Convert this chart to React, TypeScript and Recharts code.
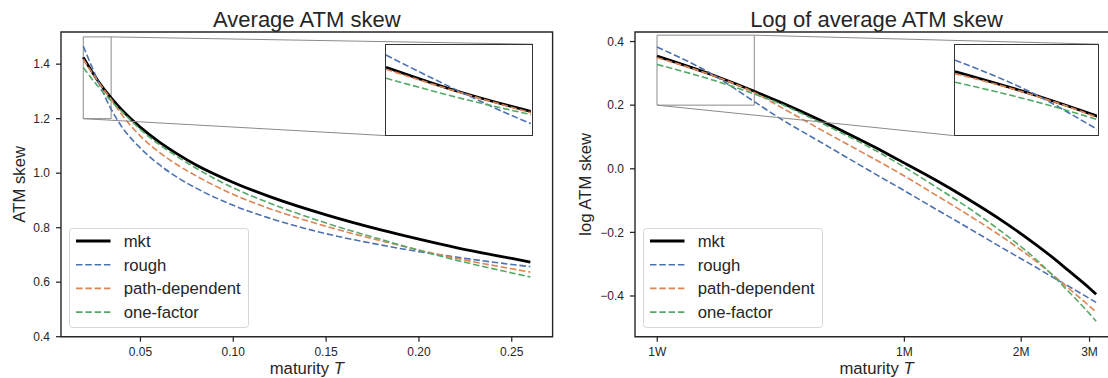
import React from 'react';
import { LineChart, Line, XAxis, YAxis, ReferenceArea, ReferenceLine } from 'recharts';

// maturities in years (1W ... ~3M)
const MATURITY = [0.0192, 0.0267, 0.0342, 0.04, 0.05, 0.06, 0.07, 0.08, 0.1, 0.12, 0.15, 0.18, 0.2, 0.22, 0.25, 0.26];
const MKT = [1.425, 1.343, 1.276, 1.232, 1.168, 1.115, 1.07, 1.03, 0.966, 0.913, 0.847, 0.791, 0.758, 0.727, 0.687, 0.674];
const ROUGH = [1.466, 1.345, 1.235, 1.17, 1.092, 1.032, 0.984, 0.945, 0.882, 0.834, 0.778, 0.736, 0.712, 0.692, 0.665, 0.657];
const PATH_DEP = [1.418, 1.341, 1.271, 1.214, 1.136, 1.077, 1.03, 0.99, 0.922, 0.869, 0.805, 0.751, 0.718, 0.688, 0.649, 0.637];
const ONE_FACTOR = [1.388, 1.322, 1.265, 1.226, 1.16, 1.106, 1.06, 1.018, 0.946, 0.889, 0.817, 0.756, 0.717, 0.681, 0.634, 0.619];

const LEFT_X_TICKS = [0.05, 0.1, 0.15, 0.2, 0.25];
const LEFT_Y_TICKS = [0.4, 0.6, 0.8, 1.0, 1.2, 1.4];
const RIGHT_X_TICKS = [1 / 52, 1 / 12, 1 / 6, 1 / 4];
const RIGHT_X_LABELS = ['1W', '1M', '2M', '3M'];
const RIGHT_Y_TICKS = [-0.4, -0.2, 0, 0.2, 0.4];

const FONT = '"Liberation Sans", Arial, Helvetica, sans-serif';
const INK = '#262626';
const DASH = '6.5 2.8';

const SERIES = [
  { key: 'mkt', name: 'mkt', color: '#000000', width: 2.8, dash: undefined },
  { key: 'rough', name: 'rough', color: '#4C72B0', width: 1.6, dash: DASH },
  { key: 'pathDep', name: 'path-dependent', color: '#DD8452', width: 1.6, dash: DASH },
  { key: 'oneFactor', name: 'one-factor', color: '#55A868', width: 1.6, dash: DASH },
];

const leftRows = MATURITY.map((t, i) => ({
  t,
  mkt: MKT[i],
  rough: ROUGH[i],
  pathDep: PATH_DEP[i],
  oneFactor: ONE_FACTOR[i],
}));

// right panel is the log of the same skews
const rightRows = MATURITY.map((t, i) => ({
  t,
  mkt: Math.log(MKT[i]),
  rough: Math.log(ROUGH[i]),
  pathDep: Math.log(PATH_DEP[i]),
  oneFactor: Math.log(ONE_FACTOR[i]),
}));

const H = 378;
const TOP = 32;
const X_AXIS_H = 41.3;
const INSET = { x0: 0.66, x1: 0.96, y0: 0.66, y1: 0.96 };

const PANELS = [
  {
    id: 'left',
    rows: leftRows,
    left: 0,
    width: 560,
    yAxisW: 61,
    marginRight: 7.4,
    log: false,
    xDomain: [0.0072, 0.272],
    yDomain: [0.4, 1.518],
    xTicks: LEFT_X_TICKS,
    yTicks: LEFT_Y_TICKS,
    xFmt: (v: number) => v.toFixed(2),
    yFmt: (v: number) => v.toFixed(1),
    zoomX: [MATURITY[0], 0.0342],
    zoomY: [1.2, 1.5],
    title: 'Average ATM skew',
    yLabel: 'ATM skew',
    yLabelX: 25.5,
  },
  {
    id: 'right',
    rows: rightRows,
    left: 560,
    width: 560,
    yAxisW: 75,
    marginRight: 2,
    log: true,
    xDomain: [0.01685, 0.296],
    yDomain: [-0.528, 0.43],
    xTicks: RIGHT_X_TICKS,
    yTicks: RIGHT_Y_TICKS,
    xFmt: (v: number) => RIGHT_X_LABELS[RIGHT_X_TICKS.findIndex((t) => Math.abs(t - v) < 1e-9)] ?? '',
    yFmt: (v: number) => (v < -1e-9 ? '\u2212' : '') + Math.abs(v).toFixed(1),
    zoomX: [MATURITY[0], 0.0342],
    zoomY: [0.2, 0.42],
    title: 'Log of average ATM skew',
    yLabel: 'log ATM skew',
    yLabelX: 31.5,
  },
];

type Panel = (typeof PANELS)[number];

const plotBox = (p: Panel) => {
  const w = p.width - p.yAxisW - p.marginRight;
  const h = H - TOP - X_AXIS_H;
  return { x: p.yAxisW, y: TOP, w, h };
};

// axes-fraction -> data coords, used for the inset connector ends
const fracToX = (p: Panel, f: number) => {
  const [a, b] = p.xDomain;
  if (p.log) return Math.exp(Math.log(a) + f * (Math.log(b) - Math.log(a)));
  return a + f * (b - a);
};
const fracToY = (p: Panel, f: number) => p.yDomain[0] + f * (p.yDomain[1] - p.yDomain[0]);

function Legend({ left, top }: { left: number; top: number }) {
  const rowY = [13, 36.7, 60.4, 84.1];
  return (
    <svg width={180} height={100} style={{ position: 'absolute', left, top, overflow: 'visible' }}>
      <rect x={0.5} y={0.5} width={179} height={99} rx={3} fill="rgba(255,255,255,0.8)" stroke="#d6d6d6" strokeWidth={1} />
      {SERIES.map((s, i) => (
        <g key={s.key}>
          <line x1={7} x2={41.5} y1={rowY[i]} y2={rowY[i]} stroke={s.color} strokeWidth={s.width} strokeDasharray={s.dash} />
          <text x={54.7} y={rowY[i] + 6} fontSize={16.7} fontFamily={FONT} fill={INK}>
            {s.name}
          </text>
        </g>
      ))}
    </svg>
  );
}

function ChartPanel({ p }: { p: Panel }) {
  const box = plotBox(p);
  const insetLeft = box.x + INSET.x0 * box.w;
  const insetTop = box.y + (1 - INSET.y1) * box.h;
  const insetW = (INSET.x1 - INSET.x0) * box.w;
  const insetH = (INSET.y1 - INSET.y0) * box.h;
  const border = 1.3;
  const scale = p.log ? 'log' : 'linear';

  return (
    <div style={{ position: 'absolute', left: p.left, top: 0, width: p.width, height: H }}>
      <LineChart
        width={p.width}
        height={H}
        data={p.rows}
        margin={{ top: TOP, right: p.marginRight, bottom: 0, left: 0 }}
      >
        <XAxis
          dataKey="t"
          type="number"
          scale={scale}
          domain={p.xDomain}
          allowDataOverflow
          ticks={p.xTicks}
          interval={0}
          tickFormatter={p.xFmt}
          height={X_AXIS_H}
          axisLine={false}
          tickSize={5}
          tickMargin={6}
          tickLine={{ stroke: INK, strokeWidth: 1.25 }}
          tick={{ fill: INK, fontSize: 12, fontFamily: FONT }}
        />
        <YAxis
          type="number"
          domain={p.yDomain}
          allowDataOverflow
          ticks={p.yTicks}
          interval={0}
          tickFormatter={p.yFmt}
          width={p.yAxisW}
          axisLine={false}
          tickSize={5}
          tickMargin={6}
          tickLine={{ stroke: INK, strokeWidth: 1.25 }}
          tick={{ fill: INK, fontSize: 12, fontFamily: FONT }}
        />
        {SERIES.map((s) => (
          <Line
            key={s.key}
            dataKey={s.key}
            name={s.name}
            type="monotone"
            stroke={s.color}
            strokeWidth={s.width}
            strokeDasharray={s.dash}
            dot={false}
            activeDot={false}
            isAnimationActive={false}
          />
        ))}
        {/* zoom region and connectors */}
        <ReferenceArea
          x1={p.zoomX[0]}
          x2={p.zoomX[1]}
          y1={p.zoomY[0]}
          y2={p.zoomY[1]}
          fill="none"
          stroke="#8a8a8a"
          strokeWidth={1}
          ifOverflow="visible"
        />
        <ReferenceLine
          segment={[
            { x: p.zoomX[1], y: p.zoomY[1] },
            { x: fracToX(p, INSET.x1), y: fracToY(p, INSET.y1) },
          ]}
          stroke="#8a8a8a"
          strokeWidth={1}
          ifOverflow="visible"
        />
        <ReferenceLine
          segment={[
            { x: p.zoomX[0], y: p.zoomY[0] },
            { x: fracToX(p, INSET.x0), y: fracToY(p, INSET.y0) },
          ]}
          stroke="#8a8a8a"
          strokeWidth={1}
          ifOverflow="visible"
        />
        {/* axes frame */}
        <ReferenceArea
          x1={p.xDomain[0]}
          x2={p.xDomain[1]}
          y1={p.yDomain[0]}
          y2={p.yDomain[1]}
          fill="none"
          stroke={INK}
          strokeWidth={1.4}
          ifOverflow="visible"
        />
      </LineChart>

      <div
        style={{
          position: 'absolute',
          left: insetLeft,
          top: insetTop,
          width: insetW,
          height: insetH,
          boxSizing: 'border-box',
          border: `${border}px solid #333333`,
          background: '#ffffff',
        }}
      >
        <LineChart
          width={insetW - 2 * border}
          height={insetH - 2 * border}
          data={p.rows}
          margin={{ top: 0, right: 0, bottom: 0, left: 0 }}
        >
          <XAxis dataKey="t" type="number" scale={scale} domain={p.zoomX} allowDataOverflow hide />
          <YAxis type="number" domain={p.zoomY} allowDataOverflow hide />
          {SERIES.map((s) => (
            <Line
              key={s.key}
              dataKey={s.key}
              type="monotone"
              stroke={s.color}
              strokeWidth={s.width}
              strokeDasharray={s.dash}
              dot={false}
              activeDot={false}
              isAnimationActive={false}
            />
          ))}
        </LineChart>
      </div>

      <Legend left={box.x + 8.3} top={227.7} />

      <svg
        width={p.width}
        height={H}
        style={{ position: 'absolute', left: 0, top: 0, pointerEvents: 'none', overflow: 'visible' }}
      >
        <text x={box.x + box.w / 2} y={26.5} textAnchor="middle" fontSize={22} fontFamily={FONT} fill={INK}>
          {p.title}
        </text>
        <text
          x={p.yLabelX}
          y={box.y + box.h / 2}
          transform={`rotate(-90 ${p.yLabelX} ${box.y + box.h / 2})`}
          textAnchor="middle"
          fontSize={16.7}
          fontFamily={FONT}
          fill={INK}
        >
          {p.yLabel}
        </text>
        <text x={box.x + box.w / 2} y={374} textAnchor="middle" fontSize={16.7} fontFamily={FONT} fill={INK}>
          maturity <tspan fontStyle="italic">T</tspan>
        </text>
      </svg>
    </div>
  );
}

export default function App() {
  return (
    <div
      style={{
        position: 'absolute',
        left: 0,
        top: 0,
        width: 1108,
        height: H,
        overflow: 'hidden',
        background: '#ffffff',
      }}
    >
      {PANELS.map((p) => (
        <ChartPanel key={p.id} p={p} />
      ))}
    </div>
  );
}
